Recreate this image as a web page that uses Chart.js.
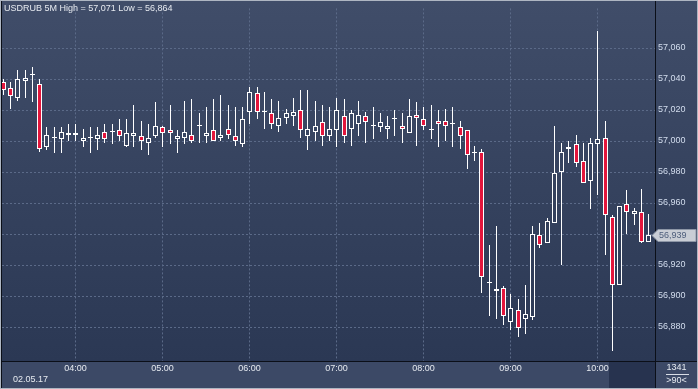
<!DOCTYPE html>
<html><head><meta charset="utf-8">
<script src="https://cdn.jsdelivr.net/npm/chart.js@4.4.1/dist/chart.umd.min.js"></script>
<style>
html,body{margin:0;padding:0;background:#aeb6c2;}
#wrap{position:relative;width:698px;height:389px;overflow:hidden;}
canvas{position:absolute;left:0;top:0;}
.lbl{position:absolute;font-family:"Liberation Sans",Arial,sans-serif;font-size:9px;line-height:11px;white-space:nowrap;color:#e6eaf0;}
</style></head><body>
<div id="wrap">
<canvas id="c" width="698" height="389"></canvas>
<div class="lbl" style="left:4px;top:3px;">USDRUB 5M High = 57,071 Low = 56,864</div>
<div class="lbl" style="left:13px;top:374px;">02.05.17</div>
<div class="lbl" style="left:656px;width:41px;text-align:center;top:362px;">1341</div>
<div class="lbl" style="left:656px;width:41px;text-align:center;top:375px;">&gt;90&lt;</div>
</div>
<script>
const times = ['03:10','03:15','03:20','03:25','03:30','03:35','03:40','03:45','03:50','03:55',
'04:00','04:05','04:10','04:15','04:20','04:25','04:30','04:35','04:40','04:45','04:50','04:55',
'05:00','05:05','05:10','05:15','05:20','05:25','05:30','05:35','05:40','05:45','05:50','05:55',
'06:00','06:05','06:10','06:15','06:20','06:25','06:30','06:35','06:40','06:45','06:50','06:55',
'07:00','07:05','07:10','07:15','07:20','07:25','07:30','07:35','07:40','07:45','07:50','07:55',
'08:00','08:05','08:10','08:15','08:20','08:25','08:30','08:35','08:40','08:45','08:50','08:55',
'09:00','09:05','09:10','09:15','09:20','09:25','09:30','09:35','09:40','09:45','09:50','09:55',
'10:00','10:05','10:10','10:15','10:20','10:25','10:30','10:35'];

const open = [57.038,57.034,57.028,57.039,57.043,57.037,56.996,57.002,57.001,57.005,
57.005,57.000,57.002,57.001,57.006,57.006,57.007,56.997,57.003,57.003,
56.999,57.003,57.009,57.007,57.001,57.002,57.004,57.010,57.003,57.007,
57.002,57.008,57.003,56.998,57.019,57.031,57.019,57.018,57.010,57.015,
57.016,57.020,57.003,57.006,57.012,57.003,57.007,57.016,57.008,57.011,
57.016,57.010,57.009,57.008,57.014,57.010,57.005,57.017,57.014,57.007,
57.013,57.013,57.011,57.009,57.007,56.992,56.993,56.908,56.904,56.905,
56.883,56.891,56.885,56.886,56.939,56.934,56.947,56.980,56.995,56.998,
56.987,56.974,56.998,57.002,56.951,56.907,56.959,56.953,56.954,56.935];

const high = [57.040,57.038,57.046,57.046,57.048,57.040,57.009,57.009,57.009,57.011,
57.011,57.008,57.009,57.009,57.011,57.011,57.014,57.014,57.023,57.013,
57.011,57.025,57.010,57.023,57.007,57.026,57.027,57.018,57.022,57.027,
57.030,57.023,57.022,57.022,57.035,57.035,57.032,57.027,57.026,57.021,
57.028,57.033,57.033,57.026,57.023,57.022,57.028,57.027,57.020,57.026,
57.019,57.022,57.018,57.016,57.020,57.018,57.027,57.025,57.022,57.023,
57.020,57.021,57.022,57.013,57.007,56.997,56.995,56.933,56.945,56.906,
56.901,56.898,56.907,56.945,56.947,56.950,57.010,56.999,57.000,57.004,
56.999,57.002,57.071,57.013,56.952,56.958,56.968,56.957,56.969,56.953];

const low = [57.030,57.021,57.026,57.028,57.025,56.993,56.994,56.992,56.992,57.000,
57.000,56.996,56.992,56.994,56.999,56.998,57.000,56.996,56.996,56.994,
56.991,57.002,56.996,56.998,56.992,56.998,56.999,56.999,56.999,57.000,
57.000,57.001,56.997,56.996,57.011,57.014,57.008,57.008,57.006,57.011,
57.010,57.002,56.994,57.000,56.997,57.000,56.996,56.999,56.997,57.003,
56.999,57.001,57.006,57.001,57.003,56.999,57.005,56.997,57.007,57.001,
56.996,57.000,56.996,56.995,56.982,56.987,56.902,56.887,56.885,56.881,
56.878,56.873,56.875,56.884,56.931,56.934,56.947,56.920,56.986,56.983,
56.973,56.956,56.965,56.926,56.864,56.907,56.940,56.946,56.934,56.935];

const close = [57.033,57.029,57.040,57.041,57.043,56.995,57.004,57.002,57.006,57.004,
57.004,57.002,57.002,57.004,57.001,57.006,57.003,57.005,57.005,57.000,
57.002,57.010,57.005,57.005,57.003,57.006,57.000,57.010,57.005,57.000,
57.004,57.004,57.000,57.014,57.032,57.019,57.019,57.011,57.015,57.018,
57.019,57.007,57.008,57.010,57.003,57.008,57.020,57.003,57.018,57.017,
57.012,57.010,57.012,57.010,57.014,57.008,57.016,57.015,57.010,57.008,
57.011,57.010,57.011,57.003,56.991,56.992,56.912,56.908,56.903,56.887,
56.892,56.879,56.888,56.940,56.933,56.948,56.979,56.993,56.996,56.986,
56.973,56.999,57.001,56.952,56.907,56.958,56.954,56.955,56.935,56.939];

const yTicks = [56.88,56.90,56.92,56.94,56.96,56.98,57.00,57.02,57.04,57.06];
const xTickLabels = ['04:00','05:00','06:00','07:00','08:00','09:00','10:00'];

const FONT = '"Liberation Sans", Arial, sans-serif';
const RED = '#e3163c';
const GRID = '#5b6a88';
const fmt = v => v.toFixed(3).replace('.', ',');

// Linear scales that snap to the pixel grid so candle edges stay crisp
class SnapX extends Chart.LinearScale {
  getPixelForValue(v) { return Math.floor(super.getPixelForValue(v)) + 0.5; }
}
SnapX.id = 'snapX';
SnapX.defaults = Chart.LinearScale.defaults;
class SnapY extends Chart.LinearScale {
  getPixelForValue(v) { return Math.round(super.getPixelForValue(v)); }
}
SnapY.id = 'snapY';
SnapY.defaults = Chart.LinearScale.defaults;
Chart.register(SnapX, SnapY);

function plotGradient(chart){
  if (!chart._bgGrad){
    const g = chart.ctx.createLinearGradient(0, 1, 0, chart.chartArea.bottom);
    g.addColorStop(0, '#404d69');
    g.addColorStop(1, '#2b3854');
    chart._bgGrad = g;
  }
  return chart._bgGrad;
}

const bgPlugin = {
  id: 'bg',
  beforeDraw(chart){
    const ctx = chart.ctx, W = chart.width, H = chart.height, a = chart.chartArea;
    ctx.save();
    ctx.fillStyle = '#aeb6c2'; ctx.fillRect(0,0,W,H);
    ctx.fillStyle = plotGradient(chart); ctx.fillRect(1,1,W-2,a.bottom-1);
    ctx.fillStyle = '#3c4966'; ctx.fillRect(1,a.bottom,W-2,H-1-a.bottom);
    ctx.fillStyle = '#27334f'; ctx.fillRect(609,a.bottom+1,a.right-609,H-2-a.bottom);
    ctx.restore();
  },
  afterDraw(chart){
    const ctx = chart.ctx, W = chart.width, H = chart.height, a = chart.chartArea;
    ctx.save();
    ctx.strokeStyle = '#0b0f18'; ctx.lineWidth = 1;
    ctx.beginPath();
    ctx.moveTo(1, a.bottom+0.5); ctx.lineTo(W-1, a.bottom+0.5);
    ctx.moveTo(a.right+0.5, 1); ctx.lineTo(a.right+0.5, H-1);
    ctx.moveTo(1.5, 1); ctx.lineTo(1.5, H-1);
    ctx.stroke();
    ctx.strokeStyle = '#d8dde6';
    ctx.beginPath(); ctx.moveTo(666, 374.5); ctx.lineTo(689, 374.5); ctx.stroke();
    // last price tag
    const last = close[close.length-1];
    const y = Math.round(chart.scales.y.getPixelForValue(last));
    ctx.fillStyle = '#c9cdd5'; ctx.strokeStyle = '#8d96a6';
    ctx.beginPath();
    ctx.moveTo(652, y+0.5); ctx.lineTo(658, y-5.5); ctx.lineTo(696, y-5.5);
    ctx.lineTo(696, y+6.5); ctx.lineTo(658, y+6.5); ctx.closePath();
    ctx.fill(); ctx.stroke();
    ctx.fillStyle = '#4d5d7b'; ctx.font = '9px ' + FONT;
    ctx.textBaseline = 'middle'; ctx.textAlign = 'left';
    ctx.fillText(fmt(last), 659, y+0.5);
    ctx.restore();
  }
};

const idx = times.map((t,i) => i);
const wickData = idx.map(i => ({x: i, y: [low[i], high[i]]}));
const bodyData = idx.map(i => ({x: i, y: [open[i], close[i]]}));
const xTickIdx = xTickLabels.map(l => times.indexOf(l));

new Chart(document.getElementById('c'), {
  type: 'bar',
  data: {
    datasets: [
      {
        label: 'body', data: bodyData, grouped: false, barThickness: 5,
        borderWidth: 1, borderColor: '#ffffff', borderSkipped: false,
        inflateAmount: 0, minBarLength: 1, clip: 0,
        backgroundColor: c => {
          const i = c.dataIndex;
          if (close[i] < open[i]) return RED;
          if (close[i] === open[i]) return '#ffffff';
          return plotGradient(c.chart);
        }
      },
      {
        label: 'wick', data: wickData, grouped: false, barThickness: 1,
        borderWidth: 0, backgroundColor: '#ffffff', inflateAmount: 0, clip: 0
      }
    ]
  },
  options: {
    responsive: false, animation: false, devicePixelRatio: 1,
    layout: {padding: {left: 2, right: 2, top: 2, bottom: 2}},
    plugins: {legend: {display: false}, tooltip: {enabled: false}, title: {display: false}},
    scales: {
      x: {
        type: 'snapX', offset: false, min: -0.18, max: 89.89,
        afterBuildTicks: s => { s.ticks = xTickIdx.map(v => ({value: v})); },
        afterFit: s => { s.height = 26; },
        grid: {color: GRID, drawTicks: false, offset: false, lineWidth: 1},
        border: {display: false, dash: [2,2]},
        ticks: {autoSkip: false, maxRotation: 0, padding: 2, color: '#e6eaf0',
          font: {family: FONT, size: 9},
          callback: (v, i) => xTickLabels[i]}
      },
      y: {
        type: 'snapY', position: 'right', min: 56.8577, max: 57.0858,
        afterBuildTicks: s => { s.ticks = yTicks.map(v => ({value: v})); },
        afterFit: s => { s.width = 41; },
        grid: {color: GRID, drawTicks: false, lineWidth: 1},
        border: {display: false, dash: [2,2]},
        ticks: {padding: 3, color: '#d3ddee', font: {family: FONT, size: 9},
          callback: v => fmt(v)}
      }
    }
  },
  plugins: [bgPlugin]
});
</script>
</body></html>
